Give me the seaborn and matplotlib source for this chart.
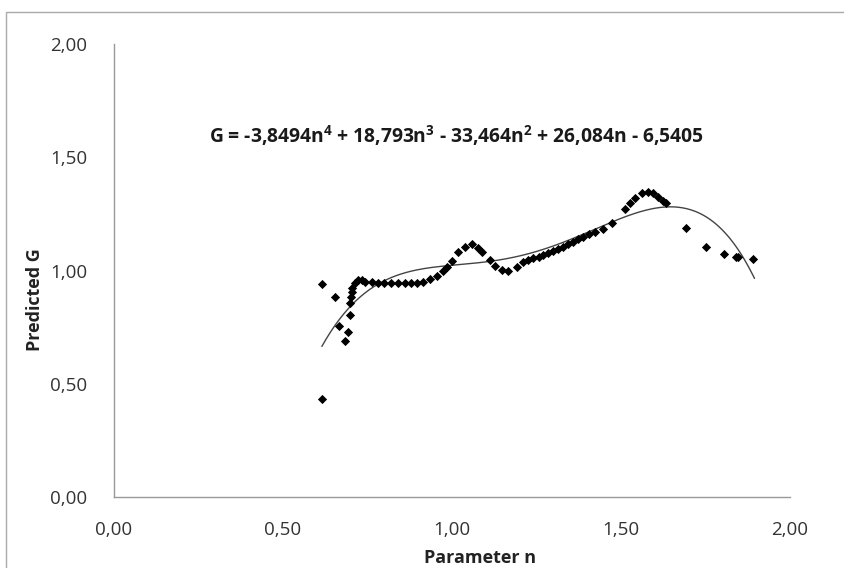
import numpy as np
import pandas as pd
import matplotlib
matplotlib.use("Agg")
import matplotlib.pyplot as plt
from matplotlib.ticker import FuncFormatter, MultipleLocator
from matplotlib.patches import Rectangle
import seaborn as sns

# Data
n_vals = [0.615, 0.615, 0.653, 0.666, 0.684, 0.691, 0.697, 0.698, 0.701, 0.703, 0.705,
          0.713, 0.723, 0.733, 0.743, 0.762, 0.782, 0.800, 0.820, 0.840, 0.860, 0.880, 0.895,
          0.915, 0.935, 0.955, 0.974, 0.984, 1.000, 1.019, 1.038, 1.058, 1.078, 1.088,
          1.112, 1.127, 1.147, 1.167, 1.191, 1.211, 1.226, 1.241, 1.256, 1.270, 1.285, 1.300,
          1.315, 1.329, 1.344, 1.359, 1.374, 1.389, 1.405, 1.423, 1.448, 1.472, 1.512, 1.527,
          1.541, 1.561, 1.581, 1.596, 1.610, 1.623, 1.633, 1.692, 1.751, 1.805, 1.840,
          1.847, 1.890]
g_vals = [0.433, 0.939, 0.883, 0.756, 0.689, 0.730, 0.802, 0.858, 0.884, 0.906, 0.921,
          0.943, 0.958, 0.958, 0.951, 0.951, 0.946, 0.943, 0.943, 0.943, 0.943, 0.943, 0.943,
          0.951, 0.961, 0.976, 0.999, 1.017, 1.040, 1.083, 1.105, 1.117, 1.098, 1.083,
          1.046, 1.020, 1.002, 0.999, 1.014, 1.039, 1.047, 1.054, 1.061, 1.068, 1.077, 1.087,
          1.096, 1.105, 1.116, 1.127, 1.138, 1.149, 1.160, 1.171, 1.182, 1.208, 1.270, 1.297,
          1.319, 1.344, 1.348, 1.341, 1.326, 1.308, 1.297, 1.186, 1.105, 1.073, 1.061,
          1.058, 1.051]

# Trendline coefficients (highest power first) as printed on the chart
coeffs = [-3.8494, 18.793, -33.464, 26.084, -6.5405]
fit_range = [0.615, 1.895]

df = pd.DataFrame({"n": n_vals, "G": g_vals})
nn = np.linspace(fit_range[0], fit_range[1], 300)
curve = pd.DataFrame({"n": nn, "G": np.polyval(coeffs, nn)})

sns.set_style("white")
plt.rcParams["font.family"] = ["Open Sans", "DejaVu Sans"]
plt.rcParams["mathtext.default"] = "regular"

fig = plt.figure(figsize=(8.45, 5.68), dpi=100)
ax = fig.add_axes([114/845, 1-497/568, (790-114)/845, (497-44)/568])

sns.lineplot(data=curve, x="n", y="G", ax=ax, color="#444444", linewidth=1.0)
sns.scatterplot(data=df, x="n", y="G", ax=ax, marker="D", color="black",
                s=22, edgecolor="black", linewidth=0, zorder=3)

ax.set_xlim(0, 2)
ax.set_ylim(0, 2)
ax.xaxis.set_major_locator(MultipleLocator(0.5))
ax.yaxis.set_major_locator(MultipleLocator(0.5))
fmt = FuncFormatter(lambda v, p: f"{v:.2f}".replace(".", ","))
ax.xaxis.set_major_formatter(fmt)
ax.yaxis.set_major_formatter(fmt)

for s in ["top", "right"]:
    ax.spines[s].set_visible(False)
for s in ["left", "bottom"]:
    ax.spines[s].set_color("#999999")
    ax.spines[s].set_linewidth(1.0)
ax.tick_params(axis="both", which="major", length=6, width=1.0, color="#999999",
               labelsize=13.5, labelcolor="#333333", direction="out")
ax.tick_params(axis="y", pad=13)
ax.tick_params(axis="x", pad=11)

ax.set_xlabel("Parameter n", fontsize=13, fontweight="bold", color="#222222", va="center")
ax.set_ylabel("Predicted G", fontsize=13, fontweight="bold", color="#222222", va="center")
ax.xaxis.set_label_coords((480-114)/676, (497-558)/453)
ax.yaxis.set_label_coords((35-114)/676, (497-300)/453)

fig.text(456/845, 1-136/568,
         r"G = -3,8494n$^{4}$ + 18,793n$^{3}$ - 33,464n$^{2}$ + 26,084n - 6,5405",
         fontsize=13.9, fontweight="bold", ha="center", va="center", color="#1a1a1a")

fig.patches.append(Rectangle((6/845, -0.05), 1.2, 1-12/568+0.05, transform=fig.transFigure,
                             fill=False, edgecolor="#aaaaaa", linewidth=1.0))

fig.savefig("out.png", dpi=100)
